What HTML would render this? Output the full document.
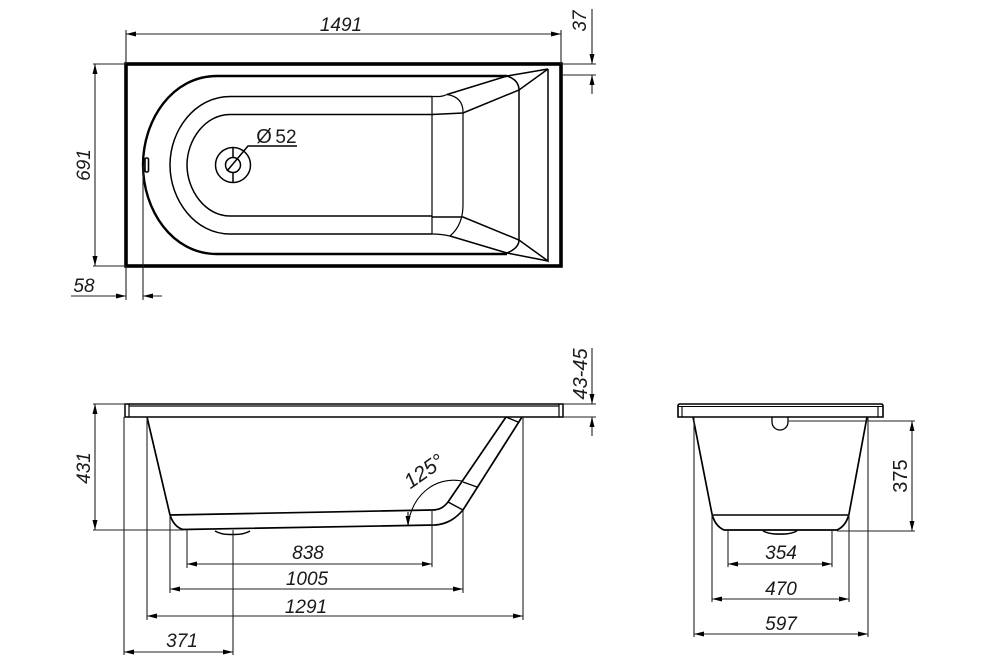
<!DOCTYPE html>
<html><head><meta charset="utf-8"><style>
html,body{margin:0;padding:0;background:#fff}
svg{display:block;filter:blur(0.35px)}
text{font-family:"Liberation Sans",sans-serif;font-size:19px;font-style:italic;fill:#1a1a1a;text-anchor:middle}
</style></head><body>
<svg width="1000" height="667" viewBox="0 0 1000 667" xmlns="http://www.w3.org/2000/svg">
<defs>
<marker id="a" markerUnits="userSpaceOnUse" markerWidth="12" markerHeight="7" refX="10" refY="3.500" orient="auto-start-reverse"><path d="M0,1 L10,3.500 L0,6 Z" fill="#000"/></marker>
</defs>
<rect width="1000" height="667" fill="#fff"/>

<!-- TOP VIEW -->
<g fill="none" stroke="#000">
<rect x="126" y="64" width="435" height="202" stroke-width="3.6"/>
<path d="M507,76 H217 C172,76 143,120 143,165 C143,210 172,254 217,254 H507" stroke-width="2.4"/>
<g stroke-width="1.5">
<path d="M432,96.500 H230 C195,96.500 170,130 170,165 C170,200 195,234 230,234 H432"/>
<path d="M432,114.500 H230 C205,114.500 187,140 187,165 C187,190 205,216 230,216 H432"/>
<path d="M432,96 V234" stroke-width="1.2"/>
<path d="M432,96.500 H440 Q444,96 447,94.500 Q463,97 463,112 V205 Q463,225 450,236 Q441,234 432,234" stroke-width="1.2"/>
<path d="M432,114.500 L463,113 L519,90 L548,69 L507,76 L447,94.500"/>
<path d="M507,76 Q519,80 519,90 V240 Q519,248 507,253"/>
<path d="M548,69 V261 L519,240 L463,217 H432"/>
<path d="M450,236 L507,253 L548,261"/>
<circle cx="233" cy="165" r="17.500"/>
<circle cx="233" cy="165" r="7.500"/>
<path d="M233,148 V157 M233,173 V182 M227,171 L248,146 H297"/>
<rect x="145" y="158" width="3.500" height="14" rx="1.500" stroke-width="1.6"/>
</g>
</g>
<g fill="none" stroke="#222" stroke-width="1.1">
<path d="M126,30 V64 M561,30 V64 M93,64 H126 M93,266 H126 M126,266 V300 M143,165 V300 M561,64 H596 M561,75 H596"/>
<path d="M126,34 H561" marker-start="url(#a)" marker-end="url(#a)"/>
<path d="M95,64 V266" marker-start="url(#a)" marker-end="url(#a)"/>
<path d="M71,296 H126" marker-end="url(#a)"/>
<path d="M162,296 H143" marker-end="url(#a)"/>
<path d="M592,9 V64" marker-end="url(#a)"/>
<path d="M592,94 V75" marker-end="url(#a)"/>
</g>
<text x="341" y="31">1491</text>
<text transform="translate(90,165) rotate(-90)">691</text>
<text x="84" y="292">58</text>
<text transform="translate(586,21) rotate(-90)">37</text>
<text x="286" y="143" style="font-style:normal">52</text>
<text x="264" y="143" style="font-style:normal;font-size:20px">Ø</text>

<!-- SIDE VIEW -->
<g fill="none" stroke="#000" stroke-width="1.7">
<path d="M125,404 H563 V417 H125 Z" stroke-width="1.5"/>
<path d="M129,406 H559 M129,404 V417 M559,404 V417" stroke-width="1.2"/>
<path d="M147,417 L170,515 Q174,527 183,529.500 L435,525 C448,524 456,518 463,510 L522,417"/>
<path d="M170,515 L432,510 C440,510 444,507 448,502 L506,417"/>
<path d="M448,502 L463,510 M463,482 L477,487 M506,417 L518,422" stroke-width="1.4"/>
<path d="M215,531 Q222,535 232,534.500 Q243,535 250,531" stroke-width="1.5"/>
</g>
<g fill="none" stroke="#222" stroke-width="1.1">
<path d="M93,530 H183 M93,404 H126 M124,417 V655 M147,417 V620 M170,515 V593 M187,530 V568 M233,530 V655 M432,510 V567 M463,510 V593 M523,417 V620 M563,404 H596 M563,417 H596"/>
<path d="M95,404 V530" marker-start="url(#a)" marker-end="url(#a)"/>
<path d="M187,564 H432" marker-start="url(#a)" marker-end="url(#a)"/>
<path d="M170,589 H463" marker-start="url(#a)" marker-end="url(#a)"/>
<path d="M147,616 H523" marker-start="url(#a)" marker-end="url(#a)"/>
<path d="M124,652 H233" marker-start="url(#a)" marker-end="url(#a)"/>
<path d="M592,348 V404" marker-end="url(#a)"/>
<path d="M592,436 V417" marker-end="url(#a)"/>
<path d="M462,481 C435,476 412,495 408,525" stroke="#000"/>
<path d="M408,526 V512" stroke="#000" marker-start="url(#a)"/>
</g>
<text transform="translate(90,468) rotate(-90)">431</text>
<text x="308" y="559">838</text>
<text x="307" y="585">1005</text>
<text x="306" y="613">1291</text>
<text x="182" y="647">371</text>
<text transform="translate(587,374) rotate(-90)" style="font-size:20px">43-45</text>
<text transform="translate(428,477) rotate(-35)" style="font-size:21px">125°</text>

<!-- FRONT VIEW -->
<g fill="none" stroke="#000" stroke-width="1.7">
<path d="M680,404 H881 Q883,404 883,406 V417 H678 V406 Q678,404 680,404 Z" stroke-width="1.6"/>
<path d="M678,406.500 H883 M682,406 V417 M878,406 V417" stroke-width="1.1"/>
<path d="M693,417 L712,514 Q715,526 724,530 H837 Q846,526 849,514 L867,417"/>
<path d="M712,515 H849" stroke-width="1.4"/>
<path d="M772,417 V422 A8,8 0 0 0 788,422 V417" stroke-width="1.3"/>
<path d="M763,531 Q770,534.500 780,534 Q790,534.500 797,531" stroke-width="1.5"/>
</g>
<g fill="none" stroke="#222" stroke-width="1.1">
<path d="M788,421 H915 M837,531 H915 M694,417 V637 M868,417 V637 M712,514 V602 M849,514 V602 M728,530 V567 M832,530 V567"/>
<path d="M912,421 V531" marker-start="url(#a)" marker-end="url(#a)"/>
<path d="M728,564 H832" marker-start="url(#a)" marker-end="url(#a)"/>
<path d="M712,599 H849" marker-start="url(#a)" marker-end="url(#a)"/>
<path d="M694,634 H868" marker-start="url(#a)" marker-end="url(#a)"/>
</g>
<text transform="translate(907,476) rotate(-90)" style="font-style:normal;font-size:20px">375</text>
<text x="781" y="559">354</text>
<text x="781" y="595">470</text>
<text x="781" y="630">597</text>
</svg>
</body></html>
